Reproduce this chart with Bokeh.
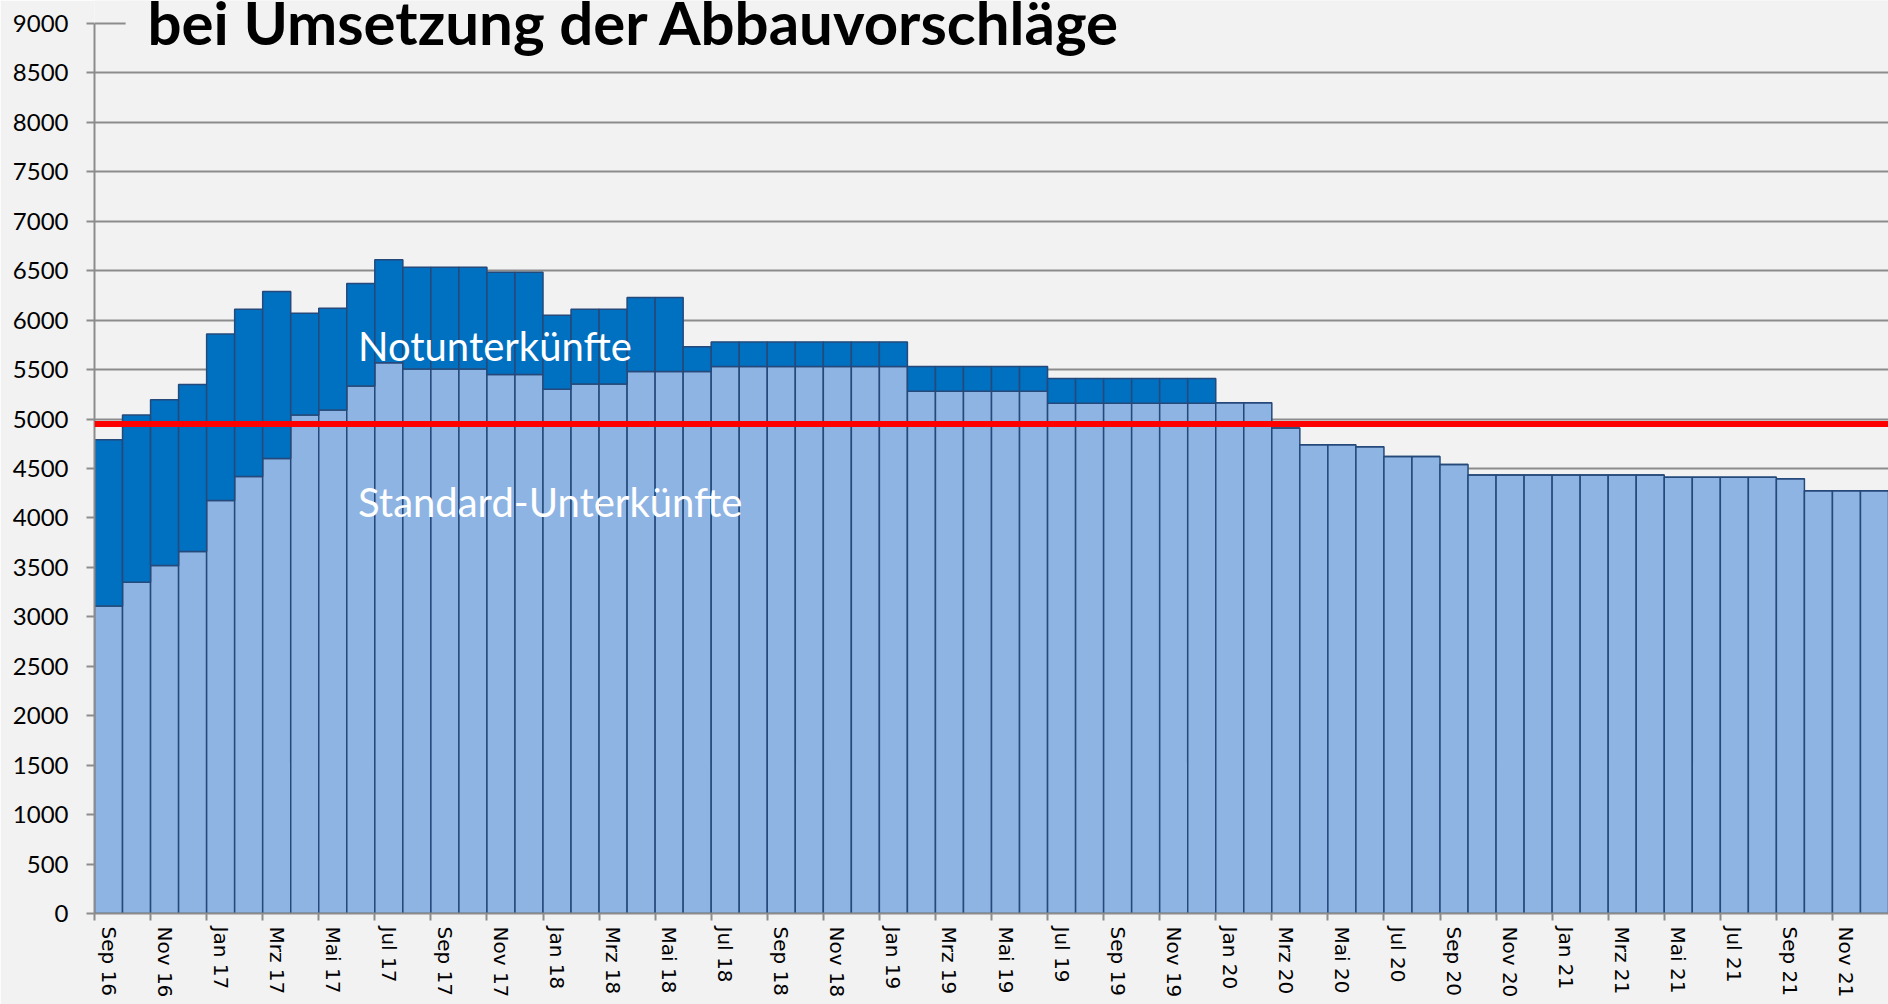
from bokeh.plotting import figure
from bokeh.models import Range1d, FixedTicker, Span, Label, BoxAnnotation, ColumnDataSource
from bokeh.embed import file_html
from bokeh.resources import INLINE

# ---- data -------------------------------------------------------------
months = ["Sep 16", "Okt 16", "Nov 16", "Dez 16",
          "Jan 17", "Feb 17", "Mrz 17", "Apr 17", "Mai 17", "Jun 17",
          "Jul 17", "Aug 17", "Sep 17", "Okt 17", "Nov 17", "Dez 17",
          "Jan 18", "Feb 18", "Mrz 18", "Apr 18", "Mai 18", "Jun 18",
          "Jul 18", "Aug 18", "Sep 18", "Okt 18", "Nov 18", "Dez 18",
          "Jan 19", "Feb 19", "Mrz 19", "Apr 19", "Mai 19", "Jun 19",
          "Jul 19", "Aug 19", "Sep 19", "Okt 19", "Nov 19", "Dez 19",
          "Jan 20", "Feb 20", "Mrz 20", "Apr 20", "Mai 20", "Jun 20",
          "Jul 20", "Aug 20", "Sep 20", "Okt 20", "Nov 20", "Dez 20",
          "Jan 21", "Feb 21", "Mrz 21", "Apr 21", "Mai 21", "Jun 21",
          "Jul 21", "Aug 21", "Sep 21", "Okt 21", "Nov 21", "Dez 21"]

standard = [3110, 3350, 3520, 3660,
            4175, 4420, 4600, 5040, 5090, 5335,
            5570, 5505, 5505, 5505, 5450, 5450,
            5300, 5355, 5355, 5480, 5480, 5480,
            5530, 5530, 5530, 5530, 5530, 5530,
            5530, 5280, 5280, 5280, 5280, 5280,
            5160, 5160, 5160, 5160, 5160, 5160,
            5165, 5165, 4910, 4740, 4740, 4720,
            4620, 4620, 4540, 4435, 4435, 4435,
            4435, 4435, 4435, 4435, 4410, 4410,
            4410, 4410, 4395, 4275, 4275, 4275]

notunterkuenfte = [1680, 1690, 1675, 1690,
                   1685, 1690, 1690, 1030, 1030, 1035,
                   1040, 1030, 1030, 1030, 1035, 1035,
                   750, 755, 755, 750, 750, 250,
                   250, 250, 250, 250, 250, 250,
                   250, 250, 250, 250, 250, 250,
                   250, 250, 250, 250, 250, 250,
                   0, 0, 0, 0, 0, 0,
                   0, 0, 0, 0, 0, 0,
                   0, 0, 0, 0, 0, 0,
                   0, 0, 0, 0, 0, 0]

grenzwert = 4950
y_ticks = list(range(0, 9001, 500))
title_text = "bei Umsetzung der Abbauvorschläge"
label_not = "Notunterkünfte"
label_std = "Standard-Unterkünfte"

# ---- figure -----------------------------------------------------------
BG = "#f2f2f2"
GRAY = "#8c8c8c"

x = list(range(len(months)))
src = ColumnDataSource(dict(x=x, standard=standard, notunterkuenfte=notunterkuenfte))

p = figure(width=1888, height=1004, output_backend="svg", toolbar_location=None,
           x_range=Range1d(-0.5, len(months) - 0.5), y_range=Range1d(0, 9232),
           min_border_left=94, min_border_right=0, min_border_top=0, min_border_bottom=91)
p.background_fill_color = BG
p.border_fill_color = BG
p.outline_line_color = None

p.vbar_stack(["standard", "notunterkuenfte"], x="x", width=1.0, source=src,
             fill_color=["#8eb4e3", "#0070c0"], line_color="#24497a", line_width=1.5)

# grid
p.xgrid.grid_line_color = None
p.ygrid.ticker = FixedTicker(ticks=y_ticks)
p.ygrid.grid_line_color = GRAY
p.ygrid.grid_line_width = 2
p.ygrid.level = "underlay"

# y axis
ya = p.yaxis[0]
ya.ticker = FixedTicker(ticks=y_ticks)
ya.bounds = (0, 9000)
ya.axis_line_color = GRAY
ya.axis_line_width = 2
ya.major_tick_line_color = GRAY
ya.major_tick_line_width = 2
ya.major_tick_out = 8
ya.major_tick_in = 0
ya.minor_tick_line_color = None
ya.major_label_standoff = 18
ya.major_label_text_font = "Lato"
ya.major_label_text_font_size = "24px"
ya.major_label_text_color = "#000000"

# x axis
xa = p.xaxis[0]
shown = list(range(0, len(months), 2))
xa.ticker = FixedTicker(ticks=shown, minor_ticks=[i - 0.5 for i in shown])
xa.major_label_overrides = {i: months[i] for i in shown}
xa.major_label_orientation = "vertical"
xa.axis_line_color = GRAY
xa.axis_line_width = 2
xa.major_tick_line_color = None
xa.major_tick_out = 0
xa.major_tick_in = 0
xa.minor_tick_line_color = GRAY
xa.minor_tick_line_width = 2
xa.minor_tick_out = 7
xa.minor_tick_in = 0
xa.major_label_standoff = 6
xa.major_label_text_font = "DejaVu Sans"
xa.major_label_text_font_size = "20px"
xa.major_label_text_color = "#000000"

# red reference line
p.add_layout(Span(location=grenzwert, dimension="width", line_color="#ff0000", line_width=6))

# title box + title
p.add_layout(BoxAnnotation(left=0.61, bottom=8960, fill_color=BG, fill_alpha=1.0,
                           line_color=None, level="annotation"))
p.add_layout(Label(x=1.39, y=9015, text=title_text, text_font="Lato",
                   text_font_style="bold", text_font_size="60px",
                   text_color="#000000", text_baseline="alphabetic"))

# series labels
p.add_layout(Label(x=8.90, y=5735, text=label_not, text_font="Lato",
                   text_font_size="40px", text_color="#ffffff",
                   text_baseline="alphabetic"))
p.add_layout(Label(x=8.90, y=4157, text=label_std, text_font="Lato",
                   text_font_size="40px", text_color="#ffffff",
                   text_baseline="alphabetic"))

open("out.html", "w").write(file_html(p, INLINE))
